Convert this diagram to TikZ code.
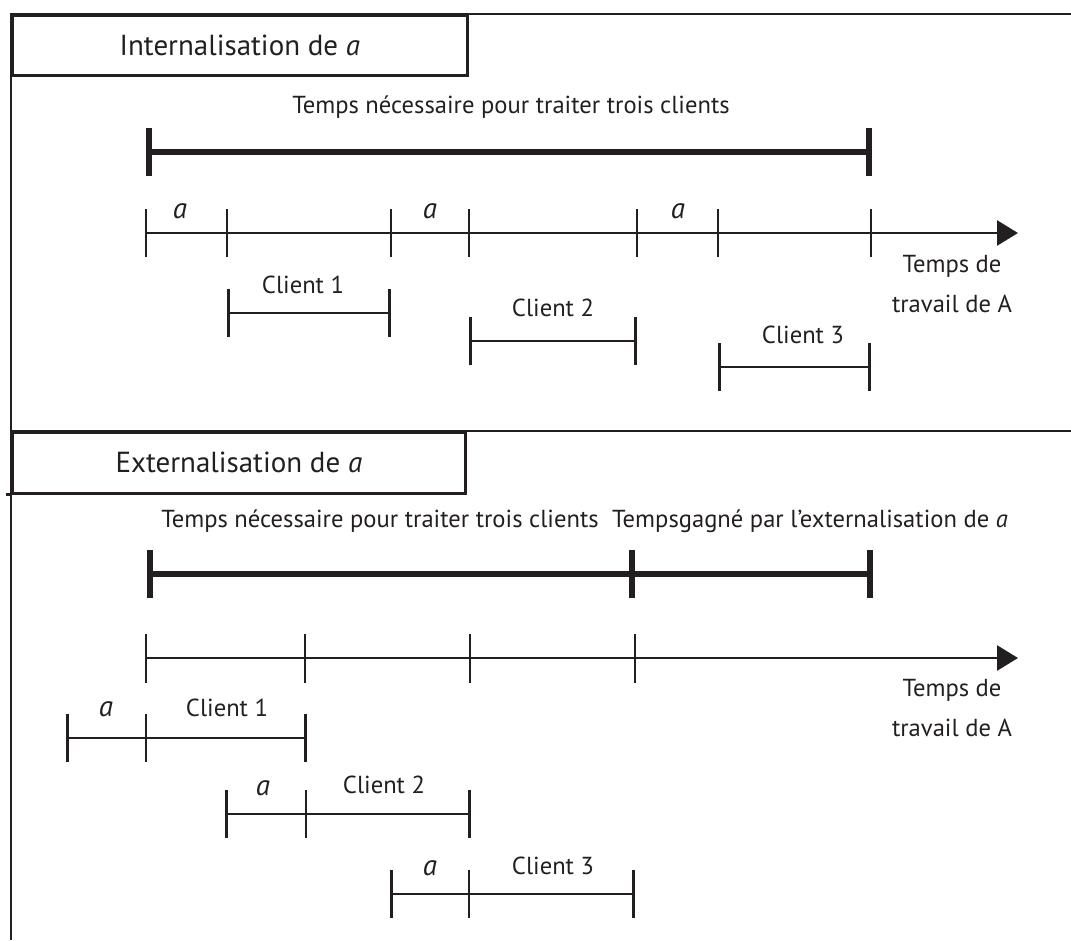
\documentclass[tikz,border=0pt]{standalone}
\usepackage{fontspec}
\setmainfont{PT Sans}
\usetikzlibrary{arrows.meta}
\definecolor{encre}{HTML}{231F20}

\begin{document}
\begin{tikzpicture}[x=0.02cm,y=-0.02cm,draw=encre,line width=1.6pt,
	every node/.style={font=\fontsize{14}{16}\selectfont,text=encre,inner sep=0pt},
	texte/.style={anchor=base},
	lettre/.style={anchor=base,font=\fontsize{16.5}{18}\selectfont\itshape},
	travail/.style={anchor=base,align=center,font=\fontsize{14}{22.7}\selectfont},
	titre/.style={draw,anchor=north west,font=\fontsize{16.5}{18}\selectfont,minimum width=9.1cm,minimum height=1.2cm},
	duree/.style={{Bar[width=0.96cm]}-{Bar[width=0.96cm]}},
	total/.style={duree,line width=3.2pt},
	axe/.style={-{Triangle[length=0.42cm,width=0.5cm]}}]

\useasboundingbox (0,0) rectangle (1071,940);
\draw (1071,14) -- (11,14) -- (11,940);
\draw (11,431) -- (1071,431);

\node[titre] (interne) at (11,14) {Internalisation de \textit{a}};
\node[titre,minimum width=9.06cm,minimum height=1.22cm] (externe) at (11,431) {Externalisation de \textit{a}};
\draw (externe.south west) -- ++(-5,0);

\node[texte] (besoin1) at (511,113) {Temps nécessaire pour traiter trois clients};
\draw[total] (146,152) coordinate (d1) -- (872,152) coordinate (f1);
\draw[axe] (146,233) coordinate (o1) -- (1018,233) coordinate (fin1);
\foreach \x in {146,227,391,469,637,718,871}
	\draw (\x,209) -- (\x,257);
\foreach \x/\n in {180/1,430/2,678/3}
	\node[lettre] (a\n) at (\x,218) {a};
\node[travail] (travail1) at (952,312) {Temps de\\travail de A};
\draw[duree] (227,313) coordinate (c1d) -- (391,313) coordinate (c1f);
\node[texte] (client1) at (303,293) {Client 1};
\draw[duree] (469,341) coordinate (c2d) -- (637,341) coordinate (c2f);
\node[texte] (client2) at (553,316) {Client 2};
\draw[duree] (718,367) coordinate (c3d) -- (871,367) coordinate (c3f);
\node[texte] (client3) at (803,343) {Client 3};

\node[texte] (besoin2) at (380,527) {Temps nécessaire pour traiter trois clients};
\node[texte] (gain) at (810,527) {Tempsgagné par l’externalisation de \textit{a}};
\draw[total] (147,574) coordinate (d2) -- (873,574) coordinate (f2);
\draw[line width=3.2pt] (632,550) coordinate (m2) -- (632,598);
\draw[axe] (146,658) coordinate (o2) -- (1018,658) coordinate (fin2);
\foreach \x in {146,305,470,635}
	\draw (\x,634) -- (\x,683);
\node[travail] (travail2) at (952,736) {Temps de\\travail de A};
\draw[duree] (66,738) coordinate (e1a) -- (307,738) coordinate (e1c);
\draw (146,714) coordinate (e1b) -- (146,762);
\node[lettre] (ea1) at (106,716) {a};
\node[texte] (eclient1) at (227,716) {Client 1};
\draw[duree] (225,814) coordinate (e2a) -- (471,814) coordinate (e2c);
\draw (306,790) coordinate (e2b) -- (306,838);
\node[lettre] (ea2) at (263,795) {a};
\node[texte] (eclient2) at (384,793) {Client 2};
\draw[duree] (390,894) coordinate (e3a) -- (635,894) coordinate (e3c);
\draw (469,870) coordinate (e3b) -- (469,918);
\node[lettre] (ea3) at (430,875) {a};
\node[texte] (eclient3) at (553,874) {Client 3};
\end{tikzpicture}
\end{document}
